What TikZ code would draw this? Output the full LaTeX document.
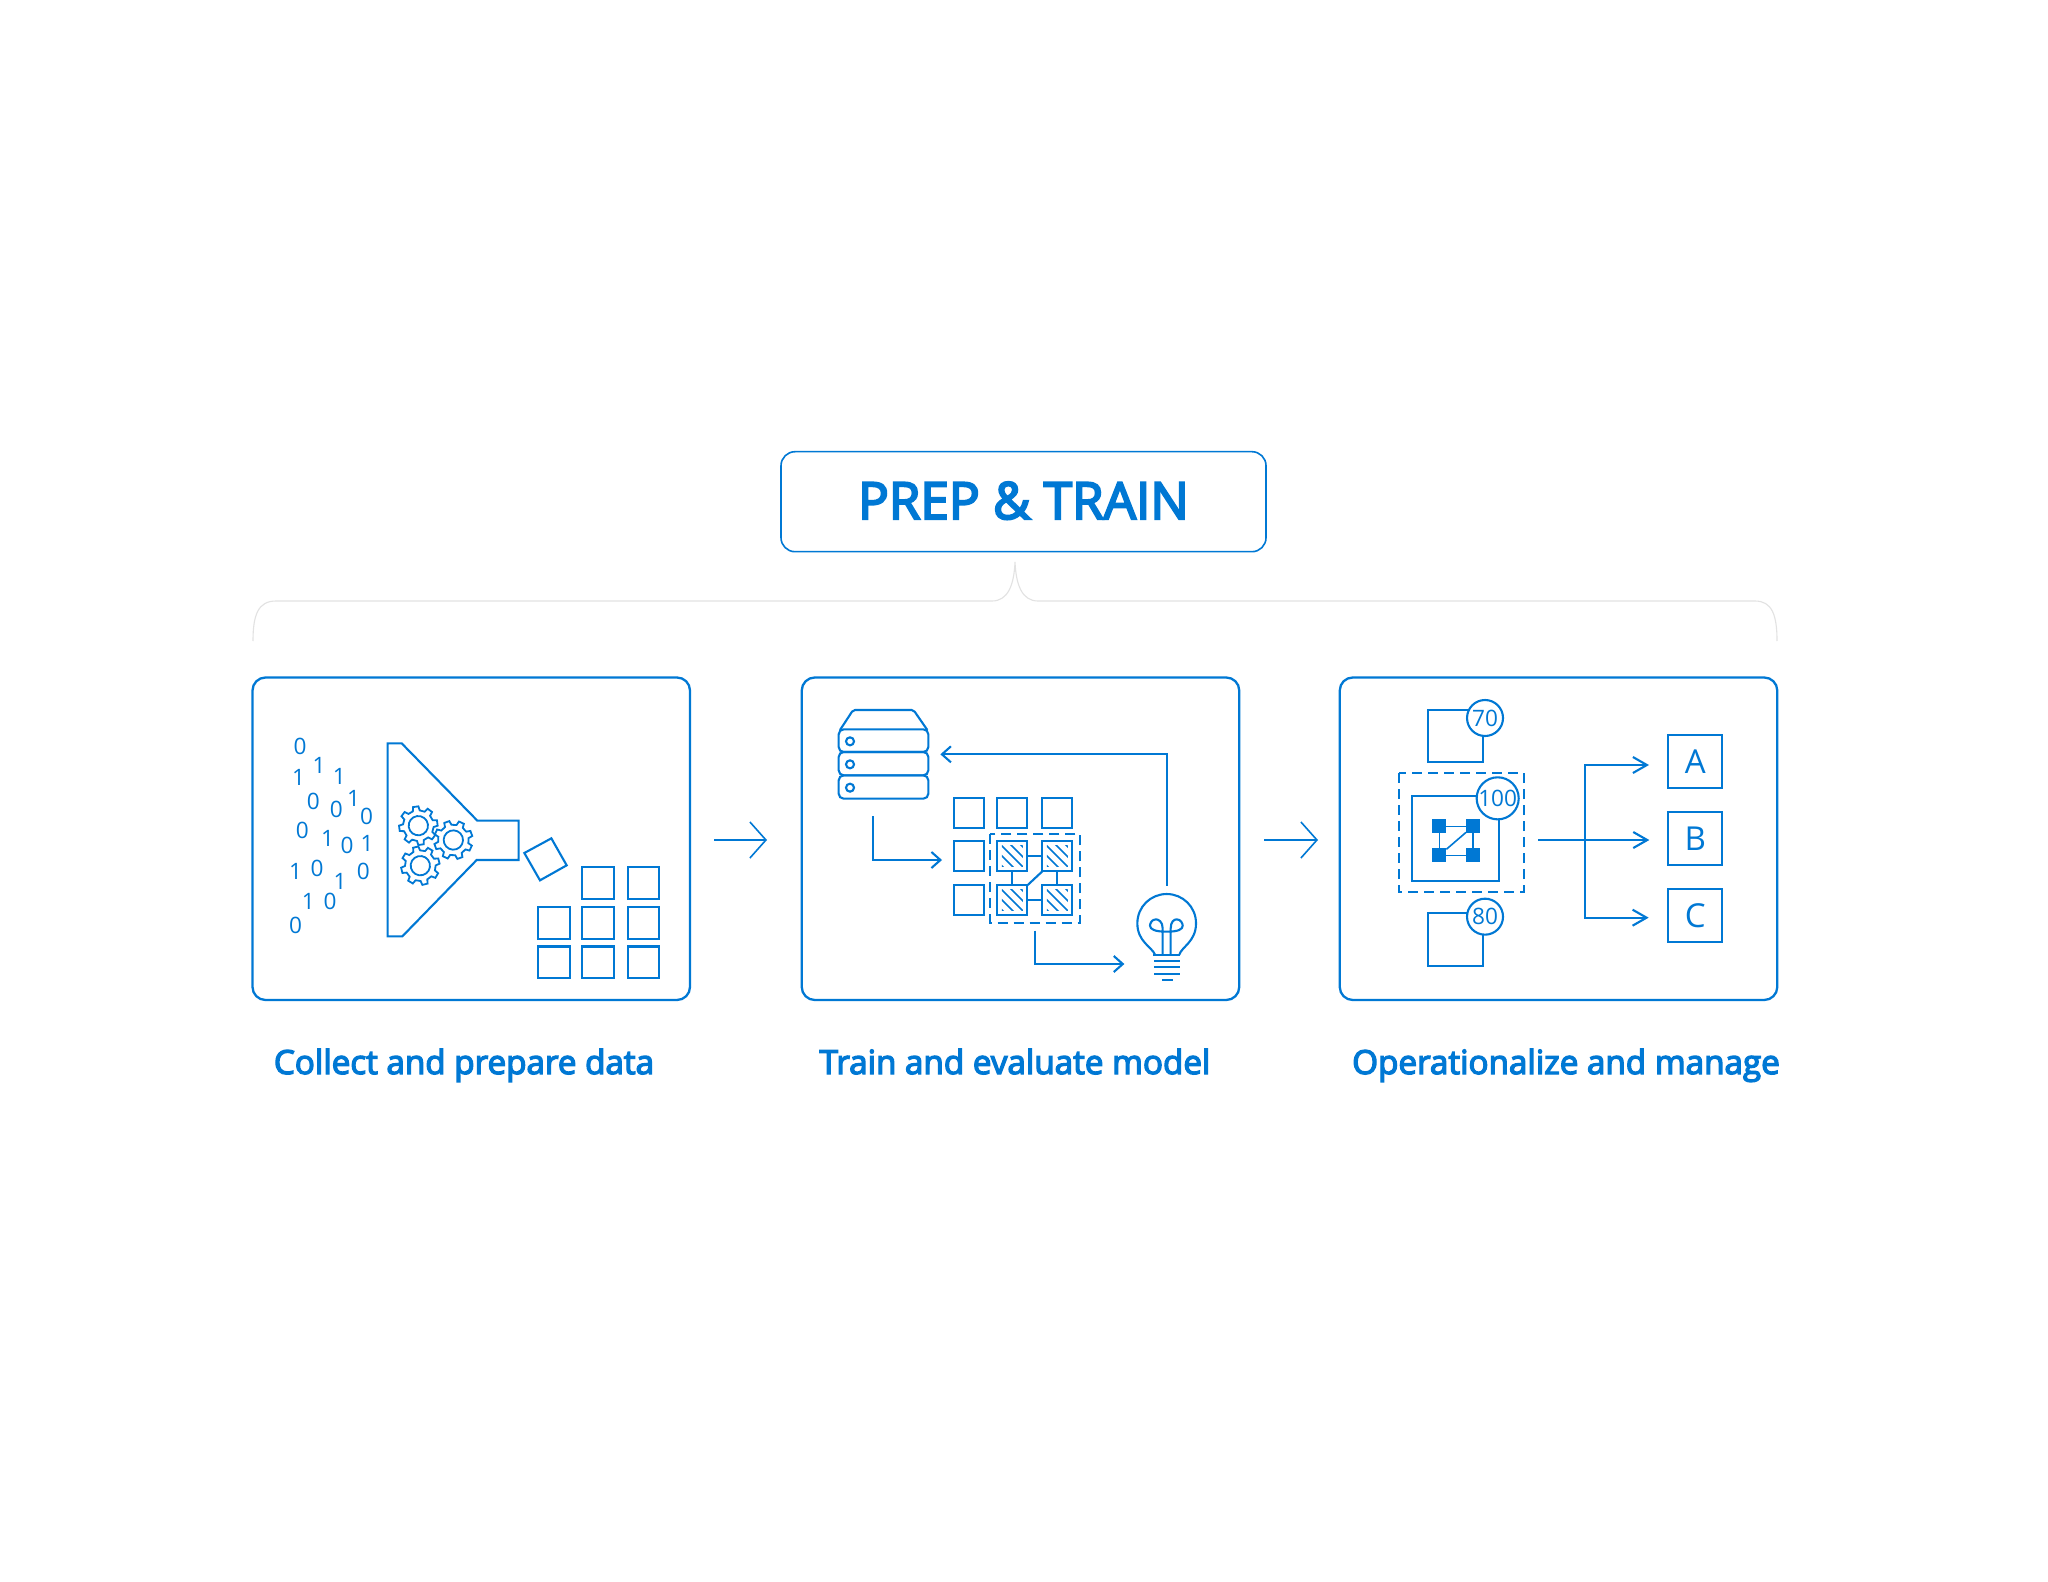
\documentclass[tikz,border=0pt]{standalone}
\usepackage{fontspec}
\setmainfont{Open Sans}
\newfontfamily\semib[FakeBold=4]{Open Sans}
\usetikzlibrary{arrows.meta}
\definecolor{az}{HTML}{0078D4}
\definecolor{bracegrey}{HTML}{E2E2E2}
\tikzset{
 ln/.style={draw=az,line width=1.05pt,line join=miter},
 panel/.style={draw=az,line width=1.15pt,rounded corners=6.5pt,minimum width=218.75pt,minimum height=161.25pt,inner sep=0pt,outer sep=0pt,fill=white},
 sqa/.style={ln,minimum size=15.8pt,inner sep=0pt,outer sep=0pt},
 sqb/.style={ln,minimum size=15pt,inner sep=0pt,outer sep=0pt},
 sqc/.style={ln,minimum width=27pt,minimum height=26.6pt,inner sep=0pt,outer sep=0pt,font=\fontsize{16.5}{18}\selectfont,text=az},
 dot/.style={draw=none,fill=az,minimum size=7pt,inner sep=0pt,outer sep=0pt},
 digit/.style={text=az,font=\fontsize{11.3}{12}\selectfont,inner sep=0pt},
 badge/.style={ln,circle,fill=white,minimum size=18pt,inner sep=0pt,outer sep=0pt,text=az,font=\fontsize{11.3}{12}\selectfont},
 caption/.style={text=az,font=\semib\fontsize{16.6}{18}\selectfont,inner sep=0pt,anchor=base},
 bigarrow/.style={draw=az,line width=0.8pt,-{Straight Barb[length=8pt,width=18pt,line width=0.8pt]}},
 smallarrow/.style={ln,-{Straight Barb[length=4.5pt,width=8pt]}},
 midarrow/.style={ln,-{Straight Barb[length=7pt,width=8pt]}},
 zoomed/.style={x=0.166667pt,y=-0.166667pt},
}
\newcommand{\gearat}[3]{%
 \begin{scope}[shift={(#1,#2)},rotate=#3]
  \draw[ln,line width=0.9pt,fill=white] (-13:46) \foreach \a in {0,45,...,315}{ -- (\a-13:46) -- (\a-8:58) -- (\a+8:58) -- (\a+13:46)} -- cycle;
  \draw[ln,line width=0.9pt] (0,0) circle (29);
 \end{scope}}
\newcommand{\hatchat}[1]{%
 \begin{scope}
  \clip ([xshift=2.2pt,yshift=-2.2pt]#1.north west) rectangle ([xshift=-2.2pt,yshift=2.2pt]#1.south east);
  \foreach \d in {-10,-5,0,5,10}
   \draw[draw=az,line width=0.8pt] ([xshift=\d pt,yshift=0pt]#1.north west) -- ([xshift=\d pt]#1.south east);
 \end{scope}}
\begin{document}
\begin{tikzpicture}[x=0.5pt,y=-0.5pt]
\useasboundingbox (0,0) rectangle (2048,1582);
\fill[white] (0,0) rectangle (2048,1582);

% header
\node[draw=az,line width=0.8pt,rounded corners=7pt,minimum width=242.5pt,minimum height=50pt,inner sep=0pt,outer sep=0pt] (head) at (1023.5,501.7) {};
\node[text=az,font=\semib\fontsize{25.6}{28}\selectfont,inner sep=0pt,anchor=base] (headtext) at (1023.5,519) {PREP \& TRAIN};

% brace
\coordinate (bl) at (253,641);
\coordinate (br) at (1777,641);
\coordinate (bt) at (1015,562);
\draw[bracegrey,line width=0.55pt] (bl) .. controls (253,615) and (258,601) .. (276,601) -- (992,601) .. controls (1008,601) and (1014,585) .. (bt) .. controls (1016,585) and (1022,601) .. (1038,601) -- (1755,601) .. controls (1772,601) and (1777,615) .. (br);

% panels
\node[panel] (p1) at (471.25,838.75) {};
\node[panel] (p2) at (1020.5,838.75) {};
\node[panel] (p3) at (1558.5,838.75) {};

% captions
\node[caption] (c1) at (464,1074) {Collect and prepare data};
\node[caption] (c2) at (1015,1074) {Train and evaluate model};
\node[caption] (c3) at (1566,1074) {Operationalize and manage};

% arrows between panels
\coordinate (a1) at (714,840); \coordinate (a2) at (767,840);
\coordinate (a3) at (1264,840); \coordinate (a4) at (1318,840);
\draw[bigarrow] (a1) -- (a2);
\draw[bigarrow] (a3) -- (a4);

% panel 1
\begin{scope}[shift={(240,660)},zoomed]
 \foreach \x/\y/\t [count=\i] in {180/260/0,237/315/1,176/352/1,298/348/1,220/424/0,341/416/1,289/449/0,380/468/0,187/510/0,263/536/1,321/556/0,381/550/1,167/634/1,231/626/0,370/634/0,300/665/1,205/724/1,270/724/0,167/796/0}
  \node[digit] (d\i) at (\x,\y) {\t};
 \draw[ln] (443,250) -- (485,250) -- (712,482) -- (836,482) -- (836,600) -- (710,600) -- (487,829) -- (443,829) -- cycle;
 \gearat{535}{497}{8}
 \gearat{640}{540}{20}
 \gearat{541}{617}{14}
 \draw[ln] (853,579) -- (934,535) -- (980,616) -- (900,661) -- cycle;
 \foreach \x/\y [count=\i] in {1074/669,1210/669,942/789,1074/789,1210/789,942/907,1074/907,1210/907}
  \node[sqa] (s\i) at (\x,\y) {};
\end{scope}

% panel 2
\begin{scope}[shift={(790,660)},zoomed]
 \draw[ln,line join=round] (150,210) -- (186,155) .. controls (189,151) and (190,150) .. (195,150) -- (365,150) .. controls (370,150) and (371,151) .. (374,155) -- (412,210);
 \draw[ln,rounded corners=2.5pt] (146,208) rectangle (415,276);
 \draw[ln,rounded corners=2.5pt] (146,276) rectangle (415,346);
 \draw[ln,rounded corners=2.5pt] (146,346) rectangle (415,416);
 \foreach \y in {244,313,383} \draw[ln] (180,\y) circle (12);
 \foreach \x/\y/\n in {538/459/t1,667/459/t2,802/459/t3,538/589/t4,538/721/t5}
  \node[sqb] (\n) at (\x,\y) {};
 \node[sqb] (h1) at (667,589) {};
 \node[sqb] (h2) at (802,589) {};
 \node[sqb] (h3) at (667,721) {};
 \node[sqb] (h4) at (802,721) {};
 \hatchat{h1}\hatchat{h2}\hatchat{h3}\hatchat{h4}
 \draw[ln] (h1) -- (h2); \draw[ln] (h3) -- (h4);
 \draw[ln] (h1) -- (h3); \draw[ln] (h2) -- (h4);
 \draw[ln] (h3.north east) -- (h2.south west);
 \draw[ln,dash pattern=on 5pt off 3pt] (600,523) rectangle (871,788);
 \coordinate (sv) at (250,468); \coordinate (svc) at (250,600); \coordinate (svt) at (456,600);
 \draw[smallarrow] (sv) -- (svc) -- (svt);
 \coordinate (bb) at (1130,677); \coordinate (bc) at (1130,283); \coordinate (bt2) at (451,283);
 \draw[smallarrow] (bb) -- (bc) -- (bt2);
 \coordinate (dd) at (735,812); \coordinate (dc) at (735,912); \coordinate (dt) at (1003,912);
 \draw[smallarrow] (dd) -- (dc) -- (dt);
 % bulb
 \draw[ln] (1095,884) .. controls (1085,860) and (1042,845) .. (1042,790) .. controls (1042,740) and (1082,702) .. (1130,702) .. controls (1178,702) and (1218,740) .. (1218,790) .. controls (1218,845) and (1175,860) .. (1168,884);
 \draw[ln] (1118,884) -- (1118,805) .. controls (1118,785) and (1105,778) .. (1098,778) .. controls (1085,778) and (1080,790) .. (1080,797) .. controls (1080,808) and (1095,815) .. (1130,815) .. controls (1165,815) and (1178,808) .. (1178,797) .. controls (1178,790) and (1172,778) .. (1160,778) .. controls (1152,778) and (1142,785) .. (1142,805) -- (1142,884);
 \draw[ln] (1090,884) -- (1170,884);
 \draw[ln] (1092,902) -- (1170,902);
 \draw[ln] (1092,922) -- (1170,922);
 \draw[ln] (1092,942) -- (1170,942);
 \draw[ln] (1116,960) -- (1148,960);
\end{scope}

% panel 3
\begin{scope}[shift={(1330,660)},zoomed]
 \draw[ln] (295,150) rectangle (458,307);
 \node[badge] (b70) at (465,174) {70};
 \draw[ln] (295,760) rectangle (458,917);
 \node[badge] (b80) at (465,770) {80};
 \draw[ln,dash pattern=on 5pt off 3pt] (207,339) rectangle (581,695);
 \draw[ln] (247,408) rectangle (507,663);
 \node[badge] (b100) at (503,415) {100};
 \node[dot] (n1) at (328,499) {};
 \node[dot] (n2) at (429,499) {};
 \node[dot] (n3) at (328,586) {};
 \node[dot] (n4) at (429,586) {};
 \draw[ln,line width=0.8pt] (n1) -- (n2); \draw[ln,line width=0.8pt] (n2) -- (n4);
 \draw[ln,line width=0.8pt] (n4) -- (n3); \draw[ln,line width=0.8pt] (n3) -- (n1);
 \draw[ln,line width=0.8pt] (n3) -- (n2);
 \node[sqc] (A) at (1096,305) {A};
 \node[sqc] (B) at (1096,536) {B};
 \node[sqc] (C) at (1096,767) {C};
 \coordinate (o) at (625,540); \coordinate (tb) at (958,540);
 \coordinate (tun) at (765,540);
 \coordinate (ta) at (957,315); \coordinate (tc) at (956,773);
 \draw[midarrow] (o) -- (tb);
 \draw[midarrow] (tun) |- (ta);
 \draw[midarrow] (tun) |- (tc);
\end{scope}
\end{tikzpicture}
\end{document}
